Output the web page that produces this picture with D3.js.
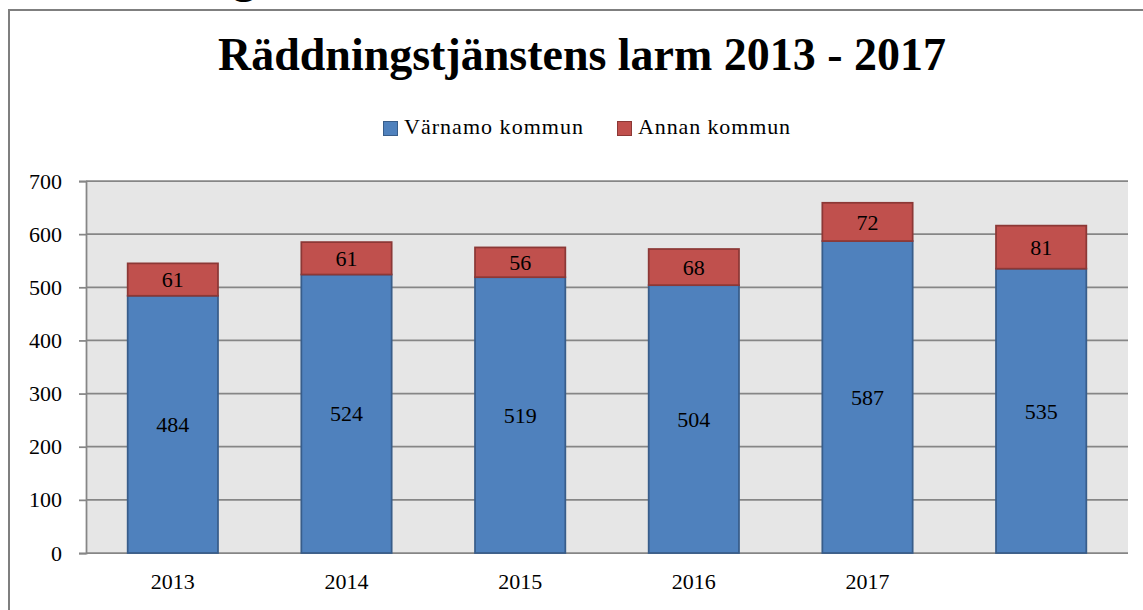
<!DOCTYPE html>
<html>
<head>
<meta charset="utf-8">
<script src="https://cdn.jsdelivr.net/npm/d3@7"></script>
<style>
  body { margin: 0; background: #fff; }
  svg text { font-family: "Liberation Serif", "Times New Roman", serif; fill: #000; }
</style>
</head>
<body>
<div id="chart"></div>
<script>
// Data for the chart
const years = ["2013", "2014", "2015", "2016", "2017", ""];
const varnamo = [484, 524, 519, 504, 587, 535];
const annan = [61, 61, 56, 68, 72, 81];
const yTicks = [0, 100, 200, 300, 400, 500, 600, 700];
const seriesNames = ["Värnamo kommun", "Annan kommun"];
const colors = ["#4F81BD", "#C0504D"];
const strokes = ["#385D8A", "#8C3836"];

const FONT = "'Liberation Serif', 'Times New Roman', serif";
const W = 1143, H = 610;
const margin = { top: 181, right: 15, bottom: 57, left: 86 };
const width = W - margin.left - margin.right;
const height = H - margin.top - margin.bottom;

const svg = d3.select("#chart")
    .append("svg")
    .attr("width", W)
    .attr("height", H)
    .attr("font-family", FONT);

// clipped heading from the page above
svg.append("text")
    .attr("x", 233)
    .attr("y", -7)
    .style("font-family", FONT)
    .style("font-size", "45px")
    .style("font-weight", "bold")
    .text("g");

// outer frame
svg.append("rect")
    .attr("x", 9)
    .attr("y", 10)
    .attr("width", 1160)
    .attr("height", 640)
    .attr("fill", "none")
    .attr("stroke", "#7f7f7f")
    .attr("stroke-width", 2);

// title, sized to the reference width
const title = svg.append("text")
    .attr("x", 582)
    .attr("y", 70)
    .attr("text-anchor", "middle")
    .style("font-family", FONT)
    .style("font-weight", "bold")
    .style("font-size", "45px")
    .text("Räddningstjänstens larm 2013 - 2017");
const tw = title.node().getComputedTextLength();
title.style("font-size", (45 * 728 / tw) + "px");

// legend (text widths follow the reference's wider face)
const legend = svg.append("g");
const legendX = d3.scalePoint().domain(seriesNames).range([383, 617]);
const legendW = [179, 152];
seriesNames.forEach((name, i) => {
    const lx = legendX(name);
    legend.append("rect")
        .attr("x", lx + 0.5)
        .attr("y", 121.5)
        .attr("width", 14)
        .attr("height", 14)
        .attr("fill", colors[i])
        .attr("stroke", strokes[i])
        .attr("stroke-width", 1);
    legend.append("text")
        .attr("x", lx + 21)
        .attr("y", 134)
        .attr("textLength", legendW[i])
        .attr("lengthAdjust", "spacing")
        .style("font-family", FONT)
        .style("font-size", "22px")
        .text(name);
});

const g = svg.append("g")
    .attr("transform", `translate(${margin.left},${margin.top})`);

// scales
const x = d3.scaleBand()
    .domain(d3.range(years.length))
    .range([0, width])
    .paddingInner(0.48)
    .paddingOuter(0.24);

const y = d3.scaleLinear()
    .domain([0, 700])
    .range([height, 0]);

// plot background
g.append("rect")
    .attr("width", width)
    .attr("height", height)
    .attr("fill", "#E6E6E6");

// gridlines
g.selectAll(".grid")
    .data(yTicks)
    .enter()
    .append("line")
    .attr("x1", 0)
    .attr("x2", width)
    .attr("y1", d => y(d))
    .attr("y2", d => y(d))
    .attr("stroke", "#868686")
    .attr("stroke-width", 1.75);

// y axis
const yAxis = g.append("g")
    .call(d3.axisLeft(y).tickValues(yTicks).tickSize(7).tickPadding(17));
yAxis.attr("font-family", FONT);
yAxis.select(".domain").attr("stroke", "#868686").attr("stroke-width", 1.75);
yAxis.selectAll(".tick line").attr("stroke", "#868686").attr("stroke-width", 1.75);
yAxis.selectAll(".tick text")
    .style("font-size", "22px")
    .style("font-family", FONT)
    .attr("fill", "#000");

// x labels
g.selectAll(".xlabel")
    .data(years)
    .enter()
    .append("text")
    .attr("x", (d, i) => x(i) + x.bandwidth() / 2)
    .attr("y", height + 36)
    .attr("text-anchor", "middle")
    .style("font-family", FONT)
    .style("font-size", "22px")
    .text(d => d);

// stacked bars
const table = years.map((yr, i) => ({ i: i, a: varnamo[i], b: annan[i] }));
const stack = d3.stack().keys(["a", "b"])(table);

stack.forEach((layer, k) => {
    g.selectAll(".bar" + k)
        .data(layer)
        .enter()
        .append("rect")
        .attr("x", d => x(d.data.i))
        .attr("y", d => y(d[1]))
        .attr("width", x.bandwidth())
        .attr("height", d => y(d[0]) - y(d[1]))
        .attr("fill", colors[k])
        .attr("stroke", strokes[k])
        .attr("stroke-width", 1.75);

    g.selectAll(".label" + k)
        .data(layer)
        .enter()
        .append("text")
        .attr("x", d => x(d.data.i) + x.bandwidth() / 2)
        .attr("y", d => (y(d[0]) + y(d[1])) / 2)
        .attr("dy", ".35em")
        .attr("text-anchor", "middle")
        .style("font-family", FONT)
        .style("font-size", "22px")
        .text(d => d[1] - d[0]);
});
</script>
</body>
</html>
